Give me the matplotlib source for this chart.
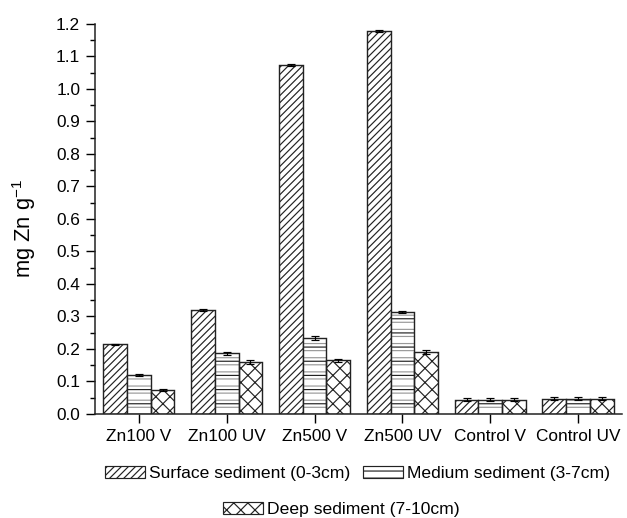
import numpy as np
import matplotlib
matplotlib.use("Agg")
import matplotlib.pyplot as plt
from matplotlib.patches import Patch
from matplotlib.ticker import MultipleLocator, FormatStrFormatter

plt.rcParams['font.family'] = ['Liberation Sans', 'DejaVu Sans']
plt.rcParams['mathtext.default'] = 'regular'
plt.rcParams['hatch.linewidth'] = 1.0

# Data (mg Zn per g)
groups = ["Zn100 V", "Zn100 UV", "Zn500 V", "Zn500 UV", "Control V", "Control UV"]
surface = [0.214, 0.321, 1.073, 1.179, 0.044, 0.047]
medium = [0.121, 0.187, 0.235, 0.315, 0.044, 0.047]
deep = [0.074, 0.160, 0.165, 0.191, 0.044, 0.047]
surface_err = [0.002, 0.003, 0.003, 0.003, 0.005, 0.005]
medium_err = [0.003, 0.005, 0.006, 0.003, 0.005, 0.005]
deep_err = [0.002, 0.007, 0.005, 0.005, 0.005, 0.005]
series_names = ["Surface sediment (0-3cm)", "Medium sediment (3-7cm)", "Deep sediment (7-10cm)"]

dpi = 85
fig = plt.figure(figsize=(627 / dpi, 518 / dpi), dpi=dpi)
ax = fig.add_axes([0.1515, 0.2008, 0.8405, 0.7529])

x = np.arange(len(groups))
w = 0.27
edge = '#222222'
err_kw = dict(ecolor='black', elinewidth=1.0, capsize=3.5, capthick=1.0)

# surface: diagonal hatch
ax.bar(x - w, surface, w, yerr=surface_err, color='white', edgecolor=edge,
       linewidth=1.2, hatch='////', error_kw=err_kw, zorder=2)
# medium: grey lines with black lines every other one
ax.bar(x, medium, w, color='white', edgecolor='#999999', linewidth=0,
       hatch='--', zorder=2)
ax.bar(x, medium, w, yerr=medium_err, fill=False, edgecolor=edge,
       linewidth=1.2, hatch='-', error_kw=err_kw, zorder=3)
# deep: cross hatch
ax.bar(x + w, deep, w, yerr=deep_err, color='white', edgecolor=edge,
       linewidth=1.2, hatch='xx', error_kw=err_kw, zorder=2)

ax.set_xlim(-0.5, 5.5)
ax.set_ylim(0, 1.2)
ax.set_xticks(x)
ax.set_xticklabels(groups)
ax.yaxis.set_major_locator(MultipleLocator(0.1))
ax.yaxis.set_minor_locator(MultipleLocator(0.05))
ax.yaxis.set_major_formatter(FormatStrFormatter('%.1f'))

for s in ['top', 'right']:
    ax.spines[s].set_visible(False)
for s in ['left', 'bottom']:
    ax.spines[s].set_linewidth(1.3)
    ax.spines[s].set_color('#222222')

ax.tick_params(axis='both', which='major', direction='out', length=7.5, width=1.2,
               labelsize=14.6, pad=5)
ax.tick_params(axis='y', which='minor', direction='out', length=4, width=1.2)
ax.tick_params(axis='x', which='minor', bottom=False)
ax.set_ylabel("mg Zn g$^{-1}$", fontsize=18.5, labelpad=15, y=0.477)

handles = [Patch(facecolor='white', edgecolor=edge, hatch='////', linewidth=1.0),
           Patch(facecolor='white', edgecolor=edge, hatch='--', linewidth=1.0),
           Patch(facecolor='white', edgecolor=edge, hatch='xx', linewidth=1.0)]
leg_kw = dict(frameon=False, fontsize=14.8, handlelength=2.29, handleheight=0.66,
              handletextpad=0.25, columnspacing=0.69, borderaxespad=0, borderpad=0)
leg1 = fig.legend(handles[:2], series_names[:2], loc='center', ncol=2,
                  bbox_to_anchor=(0.570, 0.085), **leg_kw)
leg2 = fig.legend(handles[2:], series_names[2:], loc='center',
                  bbox_to_anchor=(0.544, 0.016), **leg_kw)

fig.savefig("out.png", dpi=dpi)
